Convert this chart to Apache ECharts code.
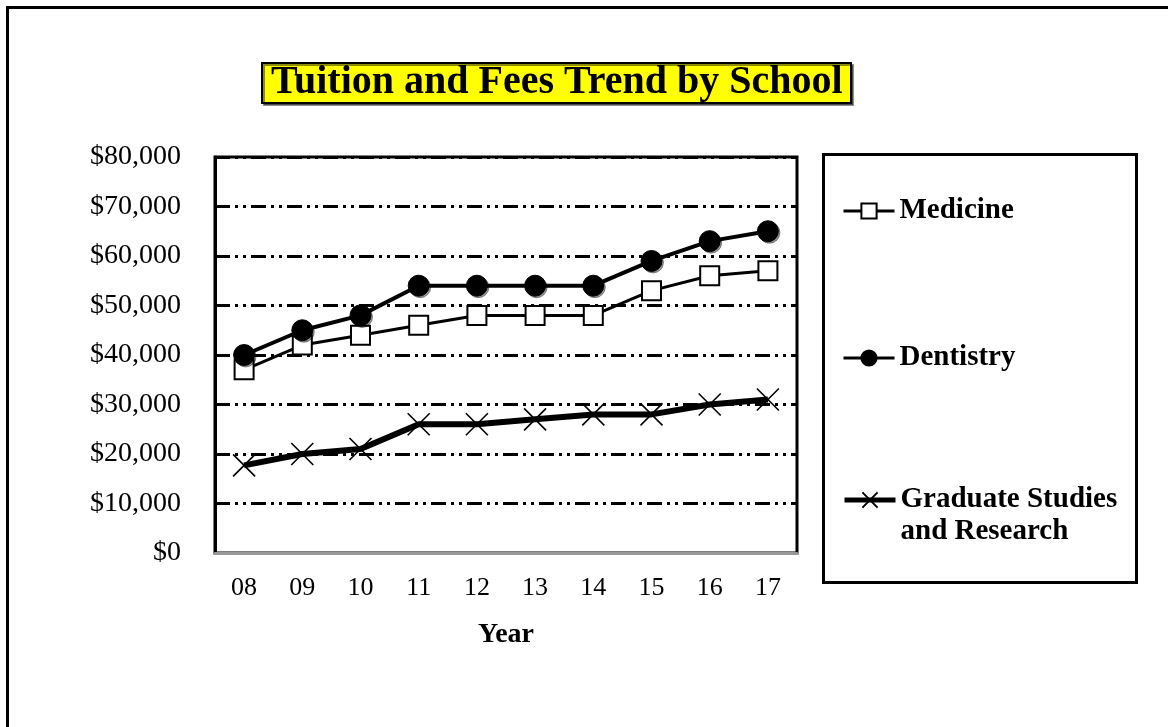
<!DOCTYPE html>
<html>
<head>
<meta charset="utf-8">
<script src="https://cdn.jsdelivr.net/npm/echarts@6/dist/echarts.min.js"></script>
<style>
  html, body { margin: 0; padding: 0; background: #fff; }
  #main { width: 1168px; height: 727px; }
</style>
</head>
<body>
<div id="main"></div>
<script>
// chart data
const years = ["08", "09", "10", "11", "12", "13", "14", "15", "16", "17"];
const medicine = [37000, 42000, 44000, 46000, 48000, 48000, 48000, 53000, 56000, 57000];
const dentistry = [40000, 45000, 48000, 54000, 54000, 54000, 54000, 59000, 63000, 65000];
const gradStudies = [17700, 20000, 21000, 26000, 26000, 27000, 28000, 28000, 30000, 31000];
const yTicks = [0, 10000, 20000, 30000, 40000, 50000, 60000, 70000, 80000];

const serif = "'Liberation Serif', 'Times New Roman', serif";
const dashDot = [15, 5, 3, 5, 3, 5];

let myChart = echarts.init(document.getElementById("main"));

const legendBase = {
  orient: "vertical",
  left: 842,
  padding: 0,
  itemWidth: 51,
  itemHeight: 19,
  itemTextGap: 5,
  textStyle: { fontFamily: serif, fontSize: 29, fontWeight: "bold", color: "#000", lineHeight: 32 }
};

let option = {
  animation: false,
  backgroundColor: "#fff",
  title: {
    text: "Tuition and Fees Trend by School",
    left: 262,
    top: 63,
    padding: [0, 9],
    backgroundColor: "#ffff00",
    borderColor: "#000",
    borderWidth: 2,
    shadowColor: "rgba(0,0,0,0.45)",
    shadowOffsetX: 2,
    shadowOffsetY: 2,
    textStyle: { fontFamily: serif, fontSize: 40, fontWeight: "bold", color: "#000", lineHeight: 40 }
  },
  graphic: [
    { type: "rect", z: -10, shape: { x: 7.5, y: 7.5, width: 1300, height: 900 },
      style: { fill: "none", stroke: "#000", lineWidth: 3 } },
    { type: "rect", z: -10, shape: { x: 823.5, y: 154.5, width: 313, height: 428 },
      style: { fill: "none", stroke: "#000", lineWidth: 3 } }
  ],
  legend: [
    Object.assign({}, legendBase, { top: 195, data: ["Medicine"], lineStyle: { width: 3 } }),
    Object.assign({}, legendBase, { top: 342, data: ["Dentistry"], lineStyle: { width: 3 } }),
    Object.assign({}, legendBase, {
      top: 452,
      data: ["Graduate Studies and Research"],
      lineStyle: { width: 5 },
      formatter: () => " \nGraduate Studies\nand Research"
    })
  ],
  grid: {
    left: 215, right: 371, top: 157, bottom: 174,
    show: true, borderColor: "#000", borderWidth: 3
  },
  xAxis: {
    type: "category",
    data: years,
    boundaryGap: true,
    name: "Year",
    nameLocation: "middle",
    nameGap: 68,
    nameTextStyle: { fontFamily: serif, fontSize: 28, fontWeight: "bold", color: "#000" },
    axisLine: { lineStyle: { color: "#999", width: 3 } },
    axisTick: { show: false },
    axisLabel: { fontFamily: serif, fontSize: 26, color: "#000", margin: 22 }
  },
  yAxis: {
    type: "value",
    min: yTicks[0],
    max: yTicks[yTicks.length - 1],
    interval: 10000,
    axisLine: { show: true, lineStyle: { color: "#000", width: 3 } },
    axisTick: { show: false },
    axisLabel: {
      fontFamily: serif, fontSize: 28, color: "#000", margin: 34,
      formatter: v => "$" + v.toLocaleString("en-US")
    },
    splitLine: { lineStyle: { color: "#000", width: 3, type: dashDot } }
  },
  series: [
    {
      name: "Medicine",
      type: "line",
      data: medicine,
      symbol: "rect",
      symbolSize: 19,
      itemStyle: { color: "#fff", borderColor: "#000", borderWidth: 2 },
      lineStyle: { color: "#000", width: 3 },
      z: 3
    },
    {
      name: "Dentistry",
      type: "line",
      data: dentistry,
      symbol: "circle",
      symbolSize: 21,
      itemStyle: { color: "#000", borderColor: "#000", borderWidth: 1,
        shadowColor: "rgba(0,0,0,0.4)", shadowOffsetX: 1.5, shadowOffsetY: 1.5 },
      lineStyle: { color: "#000", width: 4 },
      z: 4
    },
    {
      name: "Graduate Studies and Research",
      type: "line",
      data: gradStudies,
      symbol: "path://M0,0L10,10M10,0L0,10",
      symbolSize: 22,
      itemStyle: { color: "#000", borderColor: "#000", borderWidth: 1.6 },
      lineStyle: { color: "#000", width: 6 },
      z: 5
    }
  ]
};

myChart.clear();
myChart.setOption(option);
</script>
</body>
</html>
